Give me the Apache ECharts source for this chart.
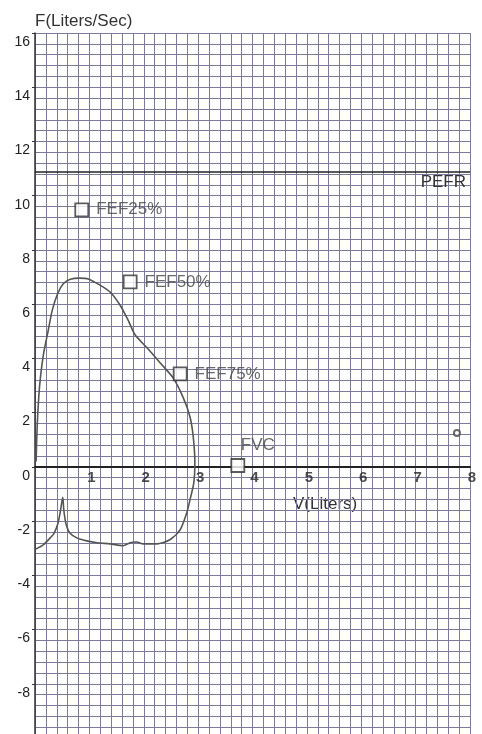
<!DOCTYPE html>
<html>
<head>
<meta charset="utf-8">
<script src="https://cdn.jsdelivr.net/npm/echarts@6/dist/echarts.min.js"></script>
<style>
html,body{margin:0;padding:0;background:#fff;}
#chart{width:482px;height:734px;}
</style>
</head>
<body>
<div id="chart"></div>
<script>
// Flow-volume loop (volume in liters, flow in liters/sec)
const loopV = [0.02,0.04,0.07,0.10,0.16,0.24,0.32,0.42,0.52,0.65,0.82,0.98,1.18,1.38,1.56,1.71,1.84,2.06,2.30,2.54,2.72,2.85,2.91,2.94,2.92,2.85,2.79,2.67,2.48,2.24,1.99,1.87,1.75,1.62,1.38,1.14,0.95,0.77,0.64,0.57,0.53,0.51,0.47,0.42,0.35,0.28,0.15,0.02];
const loopF = [0.2,1.5,2.6,3.3,4.2,5.0,5.8,6.4,6.75,6.92,6.96,6.93,6.72,6.45,5.98,5.42,4.87,4.39,3.84,3.28,2.58,1.85,1.11,0.15,-0.59,-1.22,-1.70,-2.32,-2.69,-2.84,-2.84,-2.77,-2.80,-2.91,-2.84,-2.80,-2.73,-2.62,-2.44,-2.1,-1.6,-1.12,-1.6,-2.1,-2.45,-2.62,-2.88,-3.03];

const markerNames = ['FEF25%','FEF50%','FEF75%','FVC'];
const markerV = [0.86,1.75,2.67,3.73];
const markerF = [9.48,6.82,3.43,0.05];

const pefrValue = 10.9;
const dotV = [7.76];
const dotF = [1.25];

const xTicks = [0,1,2,3,4,5,6,7,8];
const xTickLabels = ['1','2','3','4','5','6','7','8'];
const yTicks = [-10,-8,-6,-4,-2,0,2,4,6,8,10,12,14,16];

const gridColor = '#7a7a9c';
const textColor = '#333';
const font = 'Liberation Sans, Arial, sans-serif';

const chart = echarts.init(document.getElementById('chart'));
const loopData = loopV.map((v,i)=>[v, loopF[i]]);
const markerData = markerV.map((v,i)=>{
  const d = {value:[v, markerF[i]], name: markerNames[i]};
  if (markerNames[i] === 'FVC') {
    d.label = {position:'top', offset:[20,3]};
  }
  return d;
});
// x tick labels drawn on the zero line
const xLabelData = xTickLabels.map(t=>({value:[Number(t), 0], name:t}));

chart.setOption({
  backgroundColor:'#fff',
  animation:false,
  title:{
    text:'F(Liters/Sec)', left:30, top:8,
    textStyle:{fontFamily:font, fontSize:17, fontWeight:'normal', color:textColor}
  },
  grid:{left:35, right:12, top:33, bottom:-4, containLabel:false, outerBoundsMode:'none'},
  xAxis:{
    type:'value', min:xTicks[0], max:xTicks[xTicks.length-1], interval:1,
    axisLine:{show:true, onZero:true, lineStyle:{color:'#222', width:2}},
    axisTick:{show:false},
    minorTick:{show:false, splitNumber:5},
    axisLabel:{show:false},
    splitLine:{show:true, lineStyle:{color:gridColor, width:1}},
    minorSplitLine:{show:true, lineStyle:{color:gridColor, width:1}}
  },
  yAxis:{
    type:'value', min:yTicks[0], max:yTicks[yTicks.length-1], interval:2,
    axisLine:{show:true, onZero:false, lineStyle:{color:'#333', width:1.5}},
    axisTick:{show:true, length:3, lineStyle:{color:'#333'}},
    minorTick:{show:false, splitNumber:5},
    axisLabel:{
      fontFamily:font, fontSize:14, color:'#222', margin:5,
      verticalAlign:'top', padding:[2,0,0,0],
      formatter:v=> v===-10 ? '' : String(v)
    },
    splitLine:{show:true, lineStyle:{color:gridColor, width:1}},
    minorSplitLine:{show:true, lineStyle:{color:gridColor, width:1}}
  },
  graphic:[{
    type:'text', left:293, top:496,
    style:{text:'V(Liters)', font:'17px '+font, fill:textColor}
  }],
  series:[
    {
      type:'line', data:loopData, smooth:0.25, showSymbol:false,
      lineStyle:{color:'#555', width:1.6}, z:5,
      markLine:{
        silent:true, symbol:['none','none'],
        lineStyle:{color:'#222', width:1.6, type:'solid'},
        label:{show:true, position:'insideEndBottom', formatter:'PEFR',
          fontFamily:font, fontSize:17, color:textColor, distance:[4,3]},
        data:[{yAxis:pefrValue}]
      }
    },
    {
      type:'scatter', data:markerData, symbol:'rect', symbolSize:13,
      itemStyle:{color:'#fff', borderColor:'#333', borderWidth:1.8}, z:6,
      label:{show:true, position:'right', distance:7, formatter:'{b}',
        fontFamily:font, fontSize:17, color:'#444'}
    },
    {
      type:'scatter', data:dotV.map((v,i)=>[v,dotF[i]]), symbol:'emptyCircle', symbolSize:6,
      itemStyle:{color:'#444', borderColor:'#333', borderWidth:2}, z:6
    },
    {
      type:'scatter', data:xLabelData, symbol:'circle', symbolSize:1, silent:true, z:7,
      itemStyle:{color:'rgba(0,0,0,0)'},
      label:{show:true, position:'bottom', distance:3, offset:[2,0], formatter:'{b}',
        fontFamily:font, fontSize:15, fontWeight:'bold', color:'#222'}
    }
  ]
});
</script>
</body>
</html>
